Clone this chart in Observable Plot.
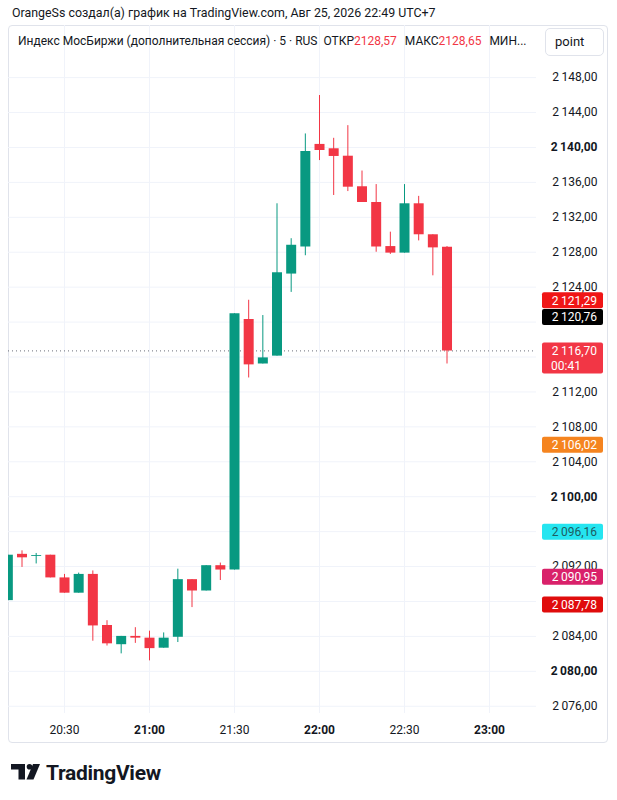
<!DOCTYPE html>
<html>
<head>
<meta charset="utf-8">
<script src="https://cdn.jsdelivr.net/npm/d3@7"></script>
<script src="https://cdn.jsdelivr.net/npm/@observablehq/plot@0.6"></script>
<style>
  html, body { margin: 0; padding: 0; background: #fff; }
  body { width: 617px; height: 800px; position: relative; overflow: hidden;
         font-family: Roboto, "Noto Sans", sans-serif; color: #131722; }
  #credit { position: absolute; left: 12px; top: 5px; font-size: 12.4px; white-space: nowrap; }
  #frame { position: absolute; left: 8px; top: 25px; width: 600px; height: 718px;
           box-sizing: border-box; border: 1px solid #e0e3eb; border-radius: 4px; }
  #chart { position: absolute; left: 0; top: 25px; }
  #legend { position: absolute; left: 18px; top: 34px; font-size: 12px; white-space: nowrap; }
  #legend .v { color: #f23645; margin-right: 8px; }
  #unit { position: absolute; left: 545px; top: 28px; width: 59px; height: 28px; box-sizing: border-box;
          border: 1px solid #e0e3eb; border-radius: 5px; background: #fff; font-size: 13px;
          line-height: 26px; padding-left: 9px; }
  #logo { position: absolute; left: 0; top: 758px; }
</style>
</head>
<body>
<div id="credit">OrangeSs создал(а) график на TradingView.com, Авг 25, 2026 22:49 UTC+7</div>
<div id="frame"></div>
<div id="chart"></div>
<div id="legend">Индекс МосБиржи (дополнительная сессия) · 5 · RUS&nbsp; ОТКР<span class="v">2128,57</span>МАКС<span class="v">2128,65</span>МИН...</div>
<div id="unit">point</div>
<svg id="logo" width="200" height="30" viewBox="0 0 200 30">
  <rect x="11" y="6" width="14" height="5.5" fill="#131722"/>
  <rect x="18.5" y="6" width="6.5" height="15.5" fill="#131722"/>
  <circle cx="29.5" cy="8.8" r="2.8" fill="#131722"/>
  <polygon points="33,6 40,6 33.5,21.5 26.5,21.5" fill="#131722"/>
  <text x="46" y="21.5" font-family="Roboto, sans-serif" font-weight="700" font-size="21" letter-spacing="-0.3" fill="#131722">TradingView</text>
</svg>
<script>
// ---- data ----
const times = ["20:10","20:15","20:20","20:25","20:30","20:35","20:40","20:45","20:50","20:55",
               "21:00","21:05","21:10","21:15","21:20","21:25","21:30","21:35","21:40","21:45",
               "21:50","21:55","22:00","22:05","22:10","22:15","22:20","22:25","22:30","22:35",
               "22:40","22:45"];
const open  = [2088.1,2093.4,2093.15,2093.3,2090.7,2088.95,2091.1,2085.25,2083.05,2084.0,
               2083.8,2082.65,2083.9,2090.5,2089.2,2092.1,2091.6,2120.3,2115.2,2116.1,
               2125.5,2128.6,2140.35,2139.85,2139.0,2135.5,2133.7,2128.65,2127.9,2133.55,
               2130.0,2128.57];
const high  = [2093.3,2093.8,2093.5,2093.3,2091.1,2091.25,2091.5,2085.8,2084.0,2085.0,
               2084.6,2084.4,2091.7,2090.5,2092.1,2092.4,2120.95,2122.5,2120.75,2133.55,
               2129.55,2141.55,2145.95,2141.05,2142.5,2137.3,2135.75,2130.3,2135.75,2134.4,
               2130.0,2128.65];
const low   = [2088.1,2091.9,2092.3,2090.7,2088.95,2088.95,2083.45,2082.9,2082.0,2083.2,
               2081.2,2082.65,2083.3,2087.3,2089.2,2090.4,2091.6,2113.6,2115.2,2116.1,
               2123.4,2127.6,2138.5,2134.5,2134.95,2133.7,2128.0,2127.75,2127.9,2129.3,
               2125.3,2115.2];
const close = [2093.3,2093.0,2093.25,2090.7,2088.95,2091.1,2085.2,2083.15,2084.0,2083.8,
               2082.6,2083.8,2090.5,2089.2,2092.1,2091.6,2120.95,2115.1,2115.9,2125.65,
               2128.8,2139.55,2139.65,2138.97,2135.45,2133.7,2128.6,2127.9,2133.55,2130.0,
               2128.5,2116.70];

const yTicks = [2076,2080,2084,2088,2092,2096,2100,2104,2108,2112,2116,2120,2124,2128,2132,2136,2140,2144,2148];
const yBold = [2080, 2100, 2140];
const yHidden = [2088, 2116, 2120];   // tick labels covered by price labels in the original
const xTicks = ["20:30","21:00","21:30","22:00","22:30","23:00"];
const xBold = ["21:00","22:00","23:00"];

const priceLabels = [2121.29, 2120.76, 2116.70, 2106.02, 2096.16, 2090.95, 2087.78];
const labelFill   = ["#f01616", "#000000", "#f23645", "#f5841f", "#25e5f0", "#d9216a", "#e00c0c"];
const labelInk    = ["#ffffff", "#ffffff", "#ffffff", "#ffffff", "#1d5d62", "#ffffff", "#ffffff"];
const lastPrice = 2116.70;
const countdown = "00:41";

// ---- layout / style ----
const up = "#089981", down = "#f23645";
const labelNudge = [-10, 2, 0, 1, 2, 1.5, 1.7];

const T = (s) => { const [h, m, sec = 0] = s.split(":").map(Number); return new Date(Date.UTC(2026, 7, 25, h, m, sec)); };
const candles = times.map((s, i) => ({date: T(s), open: open[i], high: high[i], low: low[i], close: close[i],
  color: close[i] >= open[i] ? up : down}));

const fmt = (v) => v.toFixed(2).replace(".", ",").replace(/^(\d)(\d{3})/, "$1\u2009$2");
const tf = d3.utcFormat("%H:%M");
const shown = yTicks.filter(v => !yHidden.includes(v));

const chart = Plot.plot({
  width: 617, height: 717,
  marginLeft: 8, marginRight: 81, marginTop: 0, marginBottom: 29,
  style: {fontFamily: "Roboto, sans-serif", fontSize: "12px", color: "#131722", background: "transparent"},
  x: {type: "utc", domain: [T("20:10:14"), T("23:16:35")]},
  y: {domain: [2075.17, 2153.97]},
  marks: [
    Plot.gridX(xTicks.map(T), {stroke: "#f0f3fa", strokeOpacity: 1}),
    Plot.gridY(yTicks, {stroke: "#f0f3fa", strokeOpacity: 1}),
    Plot.ruleY([lastPrice], {stroke: "#6a6d78", strokeDasharray: "1,3", strokeWidth: 1}),
    Plot.ruleX(candles, {x: "date", y1: "low", y2: "high", stroke: "color", strokeWidth: 1, clip: true}),
    Plot.ruleX(candles, {x: "date", y1: "open", y2: "close", stroke: "color", strokeWidth: 10, clip: true}),
    Plot.axisY(shown.filter(v => !yBold.includes(v)), {anchor: "right", tickSize: 0, tickPadding: 61,
      textAnchor: "end", tickFormat: fmt, fontSize: 12, fill: "#131722"}),
    Plot.axisY(yBold, {anchor: "right", tickSize: 0, tickPadding: 61, textAnchor: "end",
      tickFormat: fmt, fontSize: 12, fontWeight: "bold", fill: "#131722"}),
    Plot.axisX(xTicks.filter(s => !xBold.includes(s)).map(T), {anchor: "bottom", tickSize: 0, tickPadding: 12,
      tickFormat: tf, fontSize: 12, fill: "#131722"}),
    Plot.axisX(xBold.map(T), {anchor: "bottom", tickSize: 0, tickPadding: 12,
      tickFormat: tf, fontSize: 12, fontWeight: "bold", fill: "#131722"})
  ]
});
document.getElementById("chart").appendChild(chart);

// price labels on the axis, positioned with Plot's own y scale
const ys = chart.scale("y");
const yf = typeof ys.apply === "function" ? (v) => ys.apply(v) : d3.scaleLinear(ys.domain, ys.range);
const g = d3.select(chart).append("g").attr("font-family", "Roboto, sans-serif").attr("font-size", 12);
priceLabels.forEach((v, i) => {
  const cy = yf(v) + labelNudge[i];
  const isLast = v === lastPrice;
  g.append("rect").attr("x", 542).attr("y", cy - 8).attr("width", 61).attr("height", isLast ? 31 : 16)
    .attr("rx", 2).attr("fill", labelFill[i]);
  g.append("text").attr("x", 597).attr("y", cy).attr("dy", "0.35em").attr("text-anchor", "end")
    .attr("fill", labelInk[i]).text(fmt(v));
  if (isLast) {
    g.append("text").attr("x", 551).attr("y", cy + 15).attr("dy", "0.35em").attr("text-anchor", "start")
      .attr("fill", labelInk[i]).text(countdown);
  }
});
</script>
</body>
</html>
